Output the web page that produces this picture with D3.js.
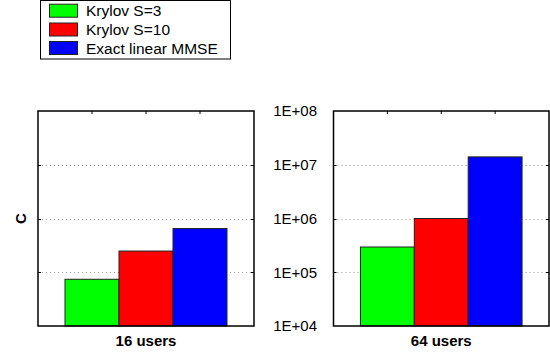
<!DOCTYPE html>
<html>
<head>
<meta charset="utf-8">
<script src="https://cdn.jsdelivr.net/npm/d3@7"></script>
<style>
  html, body { margin: 0; padding: 0; background: #fff; }
  svg { display: block; font-family: "Liberation Sans", Arial, sans-serif; }
</style>
</head>
<body>
<svg id="chart" width="550" height="358"></svg>
<script>
// Computational complexity per configuration (log scale)
const categories = ["16 users", "64 users"];
const seriesNames = ["Krylov S=3", "Krylov S=10", "Exact linear MMSE"];
const krylovS3 = [74000, 295000];
const krylovS10 = [248000, 1000000];
const exactMMSE = [650000, 14000000];
const yTicks = [1e4, 1e5, 1e6, 1e7, 1e8];
const yTickLabels = ["1E+04", "1E+05", "1E+06", "1E+07", "1E+08"];
const yLabel = "C";

const seriesValues = [krylovS3, krylovS10, exactMMSE];
const colors = ["#00ff00", "#ff0000", "#0000ff"];

const svg = d3.select("#chart");

// Panel frames
const panels = [
  { x0: 38, x1: 254, showTickLabels: false },
  { x0: 333.5, x1: 549, showTickLabels: true }
];
const plotTop = 111, plotBottom = 326;

const y = d3.scaleLog().domain([1e4, 1e8]).range([plotBottom, plotTop]);

panels.forEach((p, ci) => {
  const g = svg.append("g");
  const x = d3.scaleBand()
    .domain(seriesNames)
    .range([p.x0, p.x1])
    .paddingInner(0)
    .paddingOuter(0.5);

  // dotted grid
  g.selectAll("line.grid")
    .data(yTicks.slice(1, -1))
    .join("line")
    .attr("x1", p.x0).attr("x2", p.x1)
    .attr("y1", d => Math.round(y(d)) + 0.5)
    .attr("y2", d => Math.round(y(d)) + 0.5)
    .attr("stroke", "#999")
    .attr("stroke-width", 1)
    .attr("stroke-dasharray", "1,3");

  // bars
  g.selectAll("rect.bar")
    .data(seriesNames.map((s, si) => ({ s, si, v: seriesValues[si][ci] })))
    .join("rect")
    .attr("x", d => x(d.s))
    .attr("width", x.bandwidth())
    .attr("y", d => y(d.v))
    .attr("height", d => plotBottom - y(d.v))
    .attr("fill", d => colors[d.si])
    .attr("stroke", "#222")
    .attr("stroke-width", 1);

  // inward ticks on the top edge at bar centres
  g.selectAll("line.xtick")
    .data(seriesNames)
    .join("line")
    .attr("x1", d => x(d) + x.bandwidth() / 2)
    .attr("x2", d => x(d) + x.bandwidth() / 2)
    .attr("y1", plotTop).attr("y2", plotTop + 3)
    .attr("stroke", "#000");

  // inward ticks on the left and right edges
  [p.x0, p.x1].forEach((ex, k) => {
    g.selectAll(null)
      .data(yTicks.slice(1, -1))
      .join("line")
      .attr("x1", ex).attr("x2", k === 0 ? ex + 3 : ex - 3)
      .attr("y1", d => Math.round(y(d)) + 0.5)
      .attr("y2", d => Math.round(y(d)) + 0.5)
      .attr("stroke", "#000");
  });

  // frame
  g.append("rect")
    .attr("x", p.x0).attr("y", plotTop)
    .attr("width", p.x1 - p.x0).attr("height", plotBottom - plotTop)
    .attr("fill", "none")
    .attr("stroke", "#000")
    .attr("stroke-width", 1.5);

  // category label
  g.append("text")
    .attr("x", (p.x0 + p.x1) / 2)
    .attr("y", 346)
    .attr("text-anchor", "middle")
    .attr("font-weight", "bold")
    .attr("font-size", 15)
    .text(categories[ci]);

  if (p.showTickLabels) {
    g.selectAll("text.ytick")
      .data(yTicks)
      .join("text")
      .attr("x", p.x0 - 16.5)
      .attr("y", d => y(d))
      .attr("dy", "0.36em")
      .attr("text-anchor", "end")
      .attr("font-size", 15)
      .text((d, i) => yTickLabels[i]);
  }
});

// y-axis title
svg.append("text")
  .attr("transform", `translate(25.5, ${(plotTop + plotBottom) / 2}) rotate(-90)`)
  .attr("text-anchor", "middle")
  .attr("font-weight", "bold")
  .attr("font-size", 15)
  .text(yLabel);

// legend
const lg = svg.append("g");
lg.append("rect")
  .attr("x", 40.5).attr("y", 0.5)
  .attr("width", 190).attr("height", 58.5)
  .attr("fill", "#fff")
  .attr("stroke", "#000")
  .attr("stroke-width", 1);
const rowY = [10.7, 29.5, 48];
const items = lg.selectAll("g.item")
  .data(seriesNames)
  .join("g")
  .attr("transform", (d, i) => `translate(0, ${rowY[i]})`);
items.append("rect")
  .attr("x", 49.5).attr("y", -6.5)
  .attr("width", 28).attr("height", 13)
  .attr("fill", (d, i) => colors[i])
  .attr("stroke", "#222")
  .attr("stroke-width", 1);
items.append("text")
  .attr("x", 86)
  .attr("dy", "0.36em")
  .attr("font-size", 15.5)
  .text(d => d);
</script>
</body>
</html>
